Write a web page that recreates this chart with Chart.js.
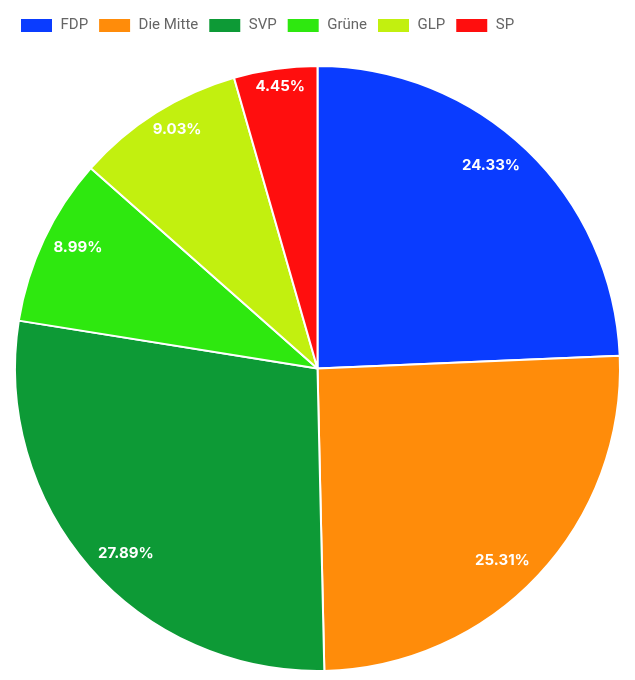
<!DOCTYPE html>
<html>
<head>
<meta charset="utf-8">
<script src="https://cdn.jsdelivr.net/npm/chart.js@4/dist/chart.umd.min.js"></script>
<style>
  html, body { margin: 0; padding: 0; background: #fff; }
  #wrap { width: 635px; height: 680px; }
</style>
</head>
<body>
<div id="wrap"><canvas id="pie"></canvas></div>
<script>
// Party shares (%)
const parties = ['FDP', 'Die Mitte', 'SVP', 'Grüne', 'GLP', 'SP'];
const shares = [24.33, 25.31, 27.89, 8.99, 9.03, 4.45];
const colors = ['#0a3cff', '#ff8c0a', '#0d9a36', '#2ee80f', '#c2f00f', '#ff0e0e'];

// percent labels: anchored at the arc edge, pushed inwards by their own box size
const pctLabels = {
    id: 'pctLabels',
    afterDatasetsDraw: function (chart) {
        const ctx = chart.ctx;
        const meta = chart.getDatasetMeta(0);
        const offset = 6, pad = 4, boxH = 23;
        ctx.save();
        ctx.fillStyle = '#fff';
        ctx.font = 'bold 15px Inter, Roboto, sans-serif';
        ctx.textAlign = 'center';
        ctx.textBaseline = 'middle';
        meta.data.forEach((arc, i) => {
            const p = arc.getProps(['x', 'y', 'startAngle', 'endAngle', 'outerRadius'], true);
            const mid = (p.startAngle + p.endAngle) / 2;
            const text = shares[i].toFixed(2) + '%';
            const w = ctx.measureText(text).width + pad * 2;
            // anchor on the outer edge, direction back towards the centre
            const ax = p.x + Math.cos(mid) * p.outerRadius;
            const ay = p.y + Math.sin(mid) * p.outerRadius;
            const vx = -Math.cos(mid), vy = -Math.sin(mid);
            const vs = 1 / Math.max(Math.abs(vx), Math.abs(vy));
            const x = ax + (w / 2) * vx * vs + offset * vx;
            const y = ay + (boxH / 2) * vy * vs + offset * vy;
            ctx.fillText(text, x, y);
        });
        ctx.restore();
    }
};

// extra room below the legend
const legendGap = {
    id: 'legendGap',
    beforeInit: function (chart) {
        const fit = chart.legend.fit;
        chart.legend.fit = function () {
            fit.bind(chart.legend)();
            this.height += 22;
        };
    }
};

new Chart(document.getElementById('pie'), {
    type: 'pie',
    data: {
        labels: parties,
        datasets: [{
            data: shares,
            backgroundColor: colors,
            borderColor: '#fff',
            borderWidth: 2
        }]
    },
    options: {
        responsive: true,
        maintainAspectRatio: false,
        animation: false,
        layout: { padding: { top: 8, bottom: 8, left: 10, right: 10 } },
        plugins: {
            legend: {
                position: 'top',
                align: 'start',
                labels: {
                    boxWidth: 33,
                    boxHeight: 15,
                    padding: 10,
                    color: '#666',
                    font: { family: 'Roboto', size: 15 }
                }
            },
            tooltip: { enabled: false }
        }
    },
    plugins: [pctLabels, legendGap]
});
</script>
</body>
</html>
